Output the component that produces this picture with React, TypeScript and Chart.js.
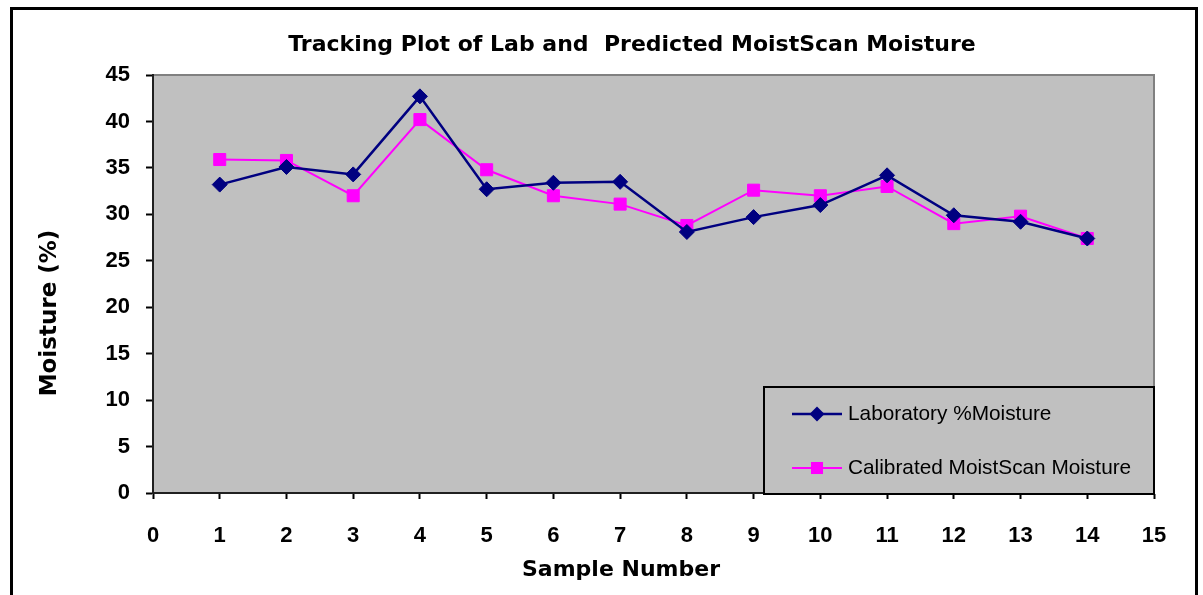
import React, { useEffect, useRef } from "react";
import { Chart, registerables } from "chart.js";

Chart.register(...registerables);

const chartTitle = "Tracking Plot of Lab and  Predicted MoistScan Moisture";
const xAxisTitle = "Sample Number";
const yAxisTitle = "Moisture (%)";

const sampleNumbers = [1, 2, 3, 4, 5, 6, 7, 8, 9, 10, 11, 12, 13, 14];
const labMoisture = [33.2, 35.1, 34.3, 42.7, 32.7, 33.4, 33.5, 28.1, 29.7, 31.0, 34.2, 29.9, 29.2, 27.4];
const calibratedMoisture = [35.9, 35.8, 32.0, 40.2, 34.8, 32.0, 31.1, 28.8, 32.6, 32.0, 33.0, 29.0, 29.8, 27.4];

const labLabel = "Laboratory %Moisture";
const calLabel = "Calibrated MoistScan Moisture";

const xMin = 0;
const xMax = 15;
const yMin = 0;
const yMax = 45;
const yStep = 5;

const W = 1203;
const H = 595;

const decorPlugin = {
  id: "decor",
  beforeDraw(chart: any) {
    const { ctx, chartArea } = chart;
    ctx.save();
    ctx.fillStyle = "#ffffff";
    ctx.fillRect(0, 0, W, H);
    ctx.fillStyle = "#c0c0c0";
    ctx.fillRect(chartArea.left, chartArea.top, chartArea.right - chartArea.left, chartArea.bottom - chartArea.top);
    ctx.strokeStyle = "#808080";
    ctx.lineWidth = 2;
    ctx.beginPath();
    ctx.moveTo(chartArea.left, chartArea.top);
    ctx.lineTo(chartArea.right, chartArea.top);
    ctx.lineTo(chartArea.right, chartArea.bottom);
    ctx.stroke();
    ctx.strokeStyle = "#000000";
    ctx.lineWidth = 3;
    ctx.strokeRect(11.5, 8.5, 1185, 620);
    ctx.fillStyle = "#000000";
    ctx.textAlign = "center";
    ctx.textBaseline = "middle";
    ctx.font = "bold 22px 'DejaVu Sans', sans-serif";
    ctx.fillText(chartTitle, 632, 45);
    ctx.font = "bold 22px 'DejaVu Sans', sans-serif";
    ctx.fillText(xAxisTitle, 621, 570);
    ctx.save();
    ctx.translate(50, 313);
    ctx.rotate(-Math.PI / 2);
    ctx.font = "bold 23px 'DejaVu Sans', sans-serif";
    ctx.fillText(yAxisTitle, 0, 0);
    ctx.restore();
    ctx.restore();
  },
  afterDraw(chart: any) {
    const { ctx, chartArea } = chart;
    const right = chartArea.right;
    const bottom = chartArea.bottom + 1;
    const left = right - 390;
    const top = bottom - 107;
    ctx.save();
    ctx.fillStyle = "#c0c0c0";
    ctx.fillRect(left, top, right - left, bottom - top);
    ctx.strokeStyle = "#000000";
    ctx.lineWidth = 2;
    ctx.strokeRect(left, top, right - left, bottom - top);
    const rows = [top + 27, top + 81];
    chart.data.datasets.forEach((ds: any, i: number) => {
      const y = rows[i];
      const x0 = left + 28;
      const x1 = left + 78;
      ctx.strokeStyle = ds.borderColor;
      ctx.lineWidth = ds.borderWidth;
      ctx.beginPath();
      ctx.moveTo(x0, y);
      ctx.lineTo(x1, y);
      ctx.stroke();
      ctx.fillStyle = ds.pointBackgroundColor;
      const cx = (x0 + x1) / 2;
      if (ds.pointStyle === "rectRot") {
        const r = ds.pointRadius;
        ctx.beginPath();
        ctx.moveTo(cx, y - r);
        ctx.lineTo(cx + r, y);
        ctx.lineTo(cx, y + r);
        ctx.lineTo(cx - r, y);
        ctx.closePath();
        ctx.fill();
      } else {
        const s = ds.pointRadius * Math.SQRT1_2;
        ctx.fillRect(cx - s, y - s, 2 * s, 2 * s);
      }
      ctx.fillStyle = "#000000";
      ctx.font = "20.8px 'Liberation Sans', Arial, sans-serif";
      ctx.textAlign = "left";
      ctx.textBaseline = "middle";
      ctx.fillText(ds.label, left + 84, y);
    });
    ctx.restore();
  },
};

export default function App() {
  const ref = useRef<HTMLCanvasElement | null>(null);
  useEffect(() => {
    document.body.style.margin = "0";
    const canvas = ref.current!;
    const chart = new Chart(canvas, {
      type: "line",
      data: {
        datasets: [
          {
            label: labLabel,
            data: sampleNumbers.map((x, i) => ({ x, y: labMoisture[i] })),
            borderColor: "#000080",
            backgroundColor: "#000080",
            pointBackgroundColor: "#000080",
            pointBorderColor: "#000080",
            borderWidth: 2.5,
            pointStyle: "rectRot",
            pointRadius: 7.5,
            pointBorderWidth: 1,
            tension: 0,
          },
          {
            label: calLabel,
            data: sampleNumbers.map((x, i) => ({ x, y: calibratedMoisture[i] })),
            borderColor: "#ff00ff",
            backgroundColor: "#ff00ff",
            pointBackgroundColor: "#ff00ff",
            pointBorderColor: "#ff00ff",
            borderWidth: 2,
            pointStyle: "rect",
            pointRadius: 8.5,
            pointBorderWidth: 1,
            tension: 0,
          },
        ],
      },
      options: {
        responsive: false,
        animation: false,
        devicePixelRatio: 1,
        layout: { padding: { top: 75, right: 49, left: 0, bottom: 0 } },
        plugins: {
          legend: { display: false },
          title: { display: false },
          tooltip: { enabled: false },
        },
        scales: {
          x: {
            type: "linear",
            min: xMin,
            max: xMax,
            afterFit: (s: any) => {
              s.height = 102;
            },
            ticks: {
              stepSize: 1,
              color: "#000000",
              padding: 24,
              font: { family: "'Liberation Sans', Arial, sans-serif", size: 22, weight: "bold" },
              maxRotation: 0,
            },
            grid: {
              drawOnChartArea: false,
              drawTicks: true,
              tickLength: 6,
              tickWidth: 2,
              tickColor: "#000000",
            },
            border: { display: true, color: "#202020", width: 2 },
          },
          y: {
            type: "linear",
            min: yMin,
            max: yMax,
            afterFit: (s: any) => {
              s.width = 153;
            },
            ticks: {
              stepSize: yStep,
              color: "#000000",
              padding: 16,
              font: { family: "'Liberation Sans', Arial, sans-serif", size: 22, weight: "bold" },
            },
            grid: {
              drawOnChartArea: false,
              drawTicks: true,
              tickLength: 7,
              tickWidth: 2,
              tickColor: "#000000",
            },
            border: { display: true, color: "#202020", width: 2 },
          },
        },
      },
      plugins: [decorPlugin],
    } as any);
    return () => chart.destroy();
  }, []);
  return (
    <div style={{ position: "fixed", left: 0, top: 0, width: W, height: H }}>
      <canvas ref={ref} width={W} height={H} style={{ display: "block" }} />
    </div>
  );
}
